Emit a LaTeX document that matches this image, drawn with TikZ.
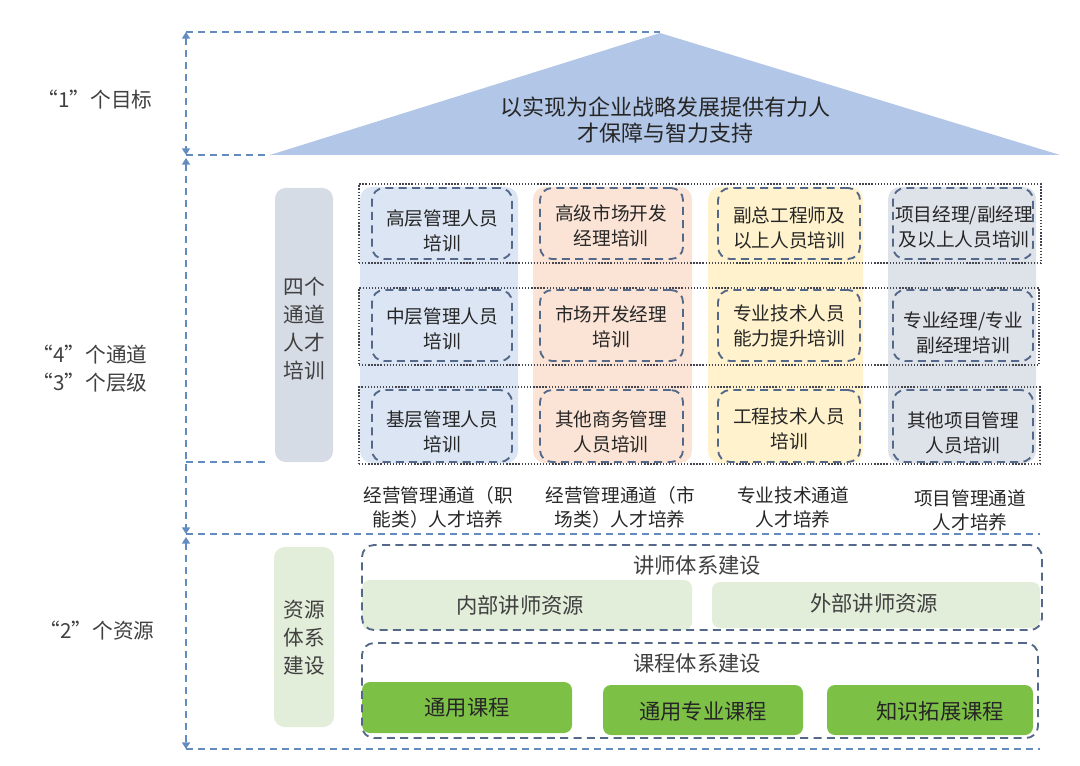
\documentclass[tikz,border=0pt]{standalone}
\usepackage{fontspec}
\setmainfont{Noto Sans CJK SC}
\usetikzlibrary{fit,arrows.meta}
\definecolor{axis}{RGB}{98,140,192}
\definecolor{tri}{RGB}{178,198,231}
\definecolor{sidebl}{RGB}{214,220,229}
\definecolor{colA}{RGB}{219,229,243}
\definecolor{colB}{RGB}{251,228,214}
\definecolor{colC}{RGB}{255,242,204}
\definecolor{colD}{RGB}{222,226,233}
\definecolor{dashc}{RGB}{84,104,138}
\definecolor{dotc}{RGB}{70,70,80}
\definecolor{lgreen}{RGB}{226,237,218}
\definecolor{dgreen}{RGB}{125,192,70}
\definecolor{txt}{RGB}{38,38,38}
\definecolor{ltxt}{RGB}{64,64,64}
\tikzset{
  axisline/.style={draw=axis, line width=1.3pt, dash pattern=on 5pt off 4pt},
  axisarrow/.style={axisline, {Triangle[length=5pt,width=6pt]}-{Triangle[length=5pt,width=6pt]}},
  colbg/.style={fill=#1, rounded corners=9pt, inner sep=0pt},
  rowbox/.style={draw=dotc, line width=1pt, dash pattern=on 1pt off 1.3pt, inner sep=0pt},
  itembox/.style={draw=dashc, line width=1.4pt, dash pattern=on 6pt off 4pt, rounded corners=9pt, inner sep=0pt},
  itemtxt/.style={align=center, font=\fontsize{14}{18.5}\selectfont, text=txt, inner sep=0pt, yshift=-1.5pt},
  grpbox/.style={draw=dashc, line width=1.4pt, dash pattern=on 6pt off 4pt, rounded corners=9pt, inner sep=0pt},
  sidebox/.style={fill=#1, rounded corners=8pt, inner sep=0pt},
  sidetxt/.style={align=center, font=\fontsize{15.5}{21}\selectfont, text=ltxt, inner sep=0pt, yshift=-1.5pt},
  resbox/.style={fill=#1, rounded corners=6pt, inner sep=0pt},
  restxt/.style={font=\fontsize{16}{20}\selectfont, text=#1, inner sep=0pt},
  lbl/.style={align=center, font=\fontsize{14}{18}\selectfont, text=txt},
  sidelbl/.style={align=center, font=\fontsize{15.5}{21}\selectfont, text=ltxt},
  grptitle/.style={font=\fontsize{16}{20}\selectfont, text=ltxt},
}
\begin{document}
\begin{tikzpicture}[x=0.75pt,y=-0.75pt]
\useasboundingbox (0,0) rectangle (1080,766);

% goal triangle
\coordinate (apex) at (660,33);
\coordinate (triL) at (270,155);
\coordinate (triR) at (1060,155);
\fill[tri] (apex) -- (triL) -- (triR) -- cycle;
\node[align=center, font=\fontsize{16.5}{19.5}\selectfont, text=txt] (goal) at (665,120) {以实现为企业战略发展提供有力人\\才保障与智力支持};

% axis
\coordinate (a0) at (186,32);
\coordinate (a1) at (186,155);
\coordinate (a1b) at (186,158);
\coordinate (a2) at (186,534);
\coordinate (a2b) at (186,537);
\coordinate (a3) at (186,749);
\coordinate (apexL) at (660,32);
\coordinate (mid0) at (186,462);
\coordinate (mid1) at (268,462);
\coordinate (h2) at (1040,534);
\coordinate (h3) at (1040,749);
\draw[axisarrow] (a0) -- (a1);
\draw[axisarrow] (a1b) -- (a2);
\draw[axisarrow] (a2b) -- (a3);
\draw[axisline] (a0) -- (apexL);
\draw[axisline] (a1) -- (triL);
\draw[axisline] (mid0) -- (mid1);
\draw[axisline] (a2) -- (h2);
\draw[axisline] (a3) -- (h3);

% left labels
\node[sidelbl] (l1) at (95,100) {“1”个目标};
\node[sidelbl] (l2) at (90,369) {“4”个通道\\“3”个层级};
\node[sidelbl] (l3) at (97,631) {“2”个资源};

% side box
\node[sidebox=sidebl, fit={(275,188)(333,462)}] (four) {};
\node[sidetxt] (fourT) at (304,327) {四个\\通道\\人才\\培训};

% column backgrounds
\node[colbg=colA, fit={(360,187)(518,463)}] (cA) {};
\node[colbg=colB, fit={(533,187)(692,463)}] (cB) {};
\node[colbg=colC, fit={(708,187)(863,463)}] (cC) {};
\node[colbg=colD, fit={(888,187)(1036,463)}] (cD) {};

% rows
\node[rowbox, fit={(359,184)(1041,263)}] (r1) {};
\node[rowbox, fit={(359,288)(1039,365)}] (r2) {};
\node[rowbox, fit={(359,387)(1040,464)}] (r3) {};

% items
\node[itembox, fit={(372,188)(512,259)}] (a11) {};
\node[itembox, fit={(372,290)(512,361)}] (a12) {};
\node[itembox, fit={(372,390)(512,462)}] (a13) {};
\node[itembox, fit={(540,188)(683,259)}] (b11) {};
\node[itembox, fit={(540,290)(683,361)}] (b12) {};
\node[itembox, fit={(540,390)(683,462)}] (b13) {};
\node[itembox, fit={(718,188)(860,259)}] (c11) {};
\node[itembox, fit={(718,290)(860,361)}] (c12) {};
\node[itembox, fit={(718,390)(860,462)}] (c13) {};
\node[itembox, fit={(893,188)(1033,259)}] (d11) {};
\node[itembox, fit={(893,290)(1033,361)}] (d12) {};
\node[itembox, fit={(893,390)(1033,462)}] (d13) {};

\node[itemtxt] (a11t) at (442,229) {高层管理人员\\培训};
\node[itemtxt] (a12t) at (442,327) {中层管理人员\\培训};
\node[itemtxt] (a13t) at (442,430) {基层管理人员\\培训};
\node[itemtxt] (b11t) at (611,224) {高级市场开发\\经理培训};
\node[itemtxt] (b12t) at (611,325) {市场开发经理\\培训};
\node[itemtxt] (b13t) at (611,430) {其他商务管理\\人员培训};
\node[itemtxt] (c11t) at (789,226) {副总工程师及\\以上人员培训};
\node[itemtxt] (c12t) at (789,324) {专业技术人员\\能力提升培训};
\node[itemtxt] (c13t) at (789,427) {工程技术人员\\培训};
\node[itemtxt] (d11t) at (964,225) {项目经理/副经理\\及以上人员培训};
\node[itemtxt] (d12t) at (963,331) {专业经理/专业\\副经理培训};
\node[itemtxt] (d13t) at (963,431) {其他项目管理\\人员培训};

% column labels
\node[lbl] (la) at (438,507) {经营管理通道（职\\能类）人才培养};
\node[lbl] (lb) at (620,507) {经营管理通道（市\\场类）人才培养};
\node[lbl] (lc) at (793,507) {专业技术通道\\人才培养};
\node[lbl] (ld) at (970,510) {项目管理通道\\人才培养};

% resources
\node[sidebox=lgreen, fit={(274,547)(334,727)}] (res) {};
\node[sidetxt] (resT) at (304,636) {资源\\体系\\建设};
\node[resbox=lgreen, fit={(362,580)(692,630)}] (inner) {};
\node[resbox=lgreen, fit={(712,582)(1040,628)}] (outer) {};
\node[restxt=ltxt] (innerT) at (520,605) {内部讲师资源};
\node[restxt=ltxt] (outerT) at (874,603) {外部讲师资源};
\node[grpbox, fit={(362,545)(1042,630)}] (lect) {};
\node[grptitle] (lectT) at (697,565) {讲师体系建设};

\node[resbox=dgreen, fit={(362,682)(572,733)}] (g1) {};
\node[resbox=dgreen, fit={(603,685)(803,735)}] (g2) {};
\node[resbox=dgreen, fit={(827,685)(1033,735)}] (g3) {};
\node[restxt=txt] (g1T) at (467,708) {通用课程};
\node[restxt=txt] (g2T) at (703,711) {通用专业课程};
\node[restxt=txt] (g3T) at (940,711) {知识拓展课程};
\node[grpbox, fit={(362,643)(1038,738)}] (course) {};
\node[grptitle] (courseT) at (697,663) {课程体系建设};
\end{tikzpicture}
\end{document}
